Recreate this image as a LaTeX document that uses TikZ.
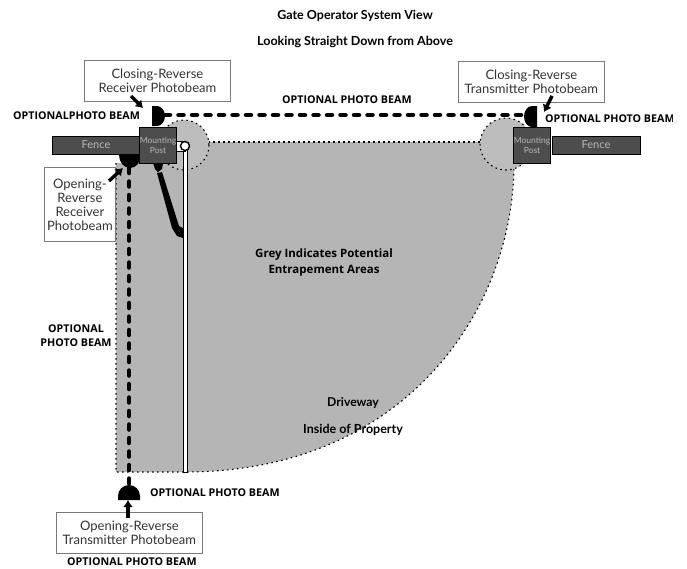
\documentclass[tikz,border=0pt]{standalone}
\usepackage{fontspec}
\setmainfont{Lato}
\newfontfamily\labelfont{Open Sans}
\usetikzlibrary{arrows.meta}
\definecolor{areagrey}{HTML}{B5B5B5}
\definecolor{circgrey}{HTML}{BDBDBD}
\definecolor{postgrey}{HTML}{4D4D4D}
\definecolor{posttext}{HTML}{B8B8B8}
\definecolor{boxline}{HTML}{7A7A7A}
\definecolor{boxtext}{HTML}{333333}
\tikzset{
    >={Latex[length=7pt, width=10pt]},
    infobox/.style={draw=boxline, line width=0.8pt, fill=white, text=boxtext, align=center, font=\fontsize{13}{14}\selectfont, inner sep=0pt, anchor=north west},
    beamtag/.style={font=\labelfont\bfseries\fontsize{10.7}{14}\selectfont, inner sep=0pt},
    headtag/.style={font=\bfseries\fontsize{12.5}{13}\selectfont, inner sep=0pt},
    postbox/.style={draw=black, line width=1pt, fill=postgrey, text=posttext, align=center, font=\fontsize{8.5}{10}\selectfont, inner sep=0pt, minimum width=36pt, minimum height=36pt},
    fencebox/.style={draw=black, line width=1pt, fill=postgrey, text=posttext, font=\fontsize{11}{12}\selectfont, inner sep=0pt, minimum width=88pt, minimum height=18pt},
    beamline/.style={line width=4.5pt, line cap=round, dash pattern=on 5pt off 8.5pt},
    pointer/.style={line width=3.4pt, ->},
    edgeline/.style={line width=1.1pt, dash pattern=on 1.6pt off 3.4pt},
}
\begin{document}
\begin{tikzpicture}[x=1pt, y=-1pt]
    \useasboundingbox(0, 0)rectangle(687, 568);
    % entrapment area
    \fill[areagrey](116, 163)--(116, 472)--(185, 472).. controls (405, 472) and (514, 310) .. (514, 163)--(514, 142)--(176, 142)--(176, 163)--cycle;
    \draw[edgeline](480, 142)--(209, 142);
    \draw[edgeline](116, 163)--(116, 472)--(185, 472).. controls (405, 472) and (514, 310) .. (514, 163);
    \filldraw[edgeline, fill=circgrey](184, 145)circle[radius=25];
    \filldraw[edgeline, fill=circgrey](506, 144)circle[radius=26];
    % beams
    \coordinate(recvtop)at(165, 115);
    \coordinate(sendtop)at(524, 115);
    \coordinate(recvleft)at(129, 168);
    \coordinate(sendleft)at(129, 485);
    \draw[beamline](recvtop)--(sendtop);
    \draw[beamline](recvleft)--(sendleft);
    \fill(152, 106)--(157, 106)arc[start angle=-90, end angle=90, x radius=8, y radius=10]--(152, 126)--cycle;
    \fill(537, 106)--(532, 106)arc[start angle=-90, end angle=-270, x radius=8, y radius=10.5]--(537, 127)--cycle;
    \fill(119, 155)arc[start angle=180, end angle=0, x radius=11, y radius=13]--cycle;
    \fill(118, 500)--(118, 496)arc[start angle=180, end angle=360, x radius=11, y radius=11]--(140, 500)--cycle;
    % posts and fence
    \node[fencebox](fenceleft)at(96, 145){Fence};
    \node[fencebox](fenceright)at(596, 145){Fence};
    \node[postbox](postleft)at(158, 145){Mounting\\Post};
    \node[postbox](postright)at(532, 145){Mounting\\Post};
    % gate and operator
    \filldraw[fill=white, line width=1pt](183.5, 146)rectangle(187.5, 472);
    \filldraw[fill=white, line width=1pt](176, 141)rectangle(185, 151);
    \filldraw[fill=white, line width=1.4pt](185, 146)circle[radius=4.5];
    \fill(153, 163)--(163, 163)--(162, 169)--(158, 172)--(155, 169)--cycle;
    \fill(157, 173)--(162, 172)--(179, 226)--(183, 228)--(183, 238)--(177, 236)--(172, 228)--cycle;
    % boxes
    \node[infobox, minimum width=146pt, minimum height=41pt](boxrecvtop)at(84, 60){Closing-Reverse\\Receiver Photobeam};
    \node[infobox, minimum width=146pt, minimum height=41pt](boxsendtop)at(458, 61){Closing-Reverse\\Transmitter Photobeam};
    \node[infobox, minimum width=71pt, minimum height=74pt](boxrecvleft)at(44, 167){Opening-\\Reverse\\Receiver\\Photobeam};
    \node[infobox, minimum width=146pt, minimum height=41pt](boxsendleft)at(56, 512){Opening-Reverse\\Transmitter Photobeam};
    % pointers
    \coordinate(tiprecvtop)at(143, 108);
    \coordinate(tipsendtop)at(544, 112);
    \coordinate(tiprecvleft)at(123, 168);
    \coordinate(tipsendleft)at(128, 500);
    \coordinate(tailsendleft)at(128, 518);
    \draw[pointer](131, 96)--(tiprecvtop);
    \draw[pointer](552, 96)--(tipsendtop);
    \draw[pointer](109, 181)--(tiprecvleft);
    \draw[pointer](tailsendleft)--(tipsendleft);
    % labels
    \node[headtag](titletop)at(355, 16){Gate Operator System View};
    \node[headtag](titlesub)at(355, 42){Looking Straight Down from Above};
    \node[beamtag, anchor=west](tagtop)at(282, 100){OPTIONAL PHOTO BEAM};
    \node[beamtag, anchor=west](tagleft)at(13, 116){OPTIONALPHOTO BEAM};
    \begin{scope}
        \clip(0, 0)rectangle(672, 568);
        \node[beamtag, anchor=west](tagright)at(545, 119){OPTIONAL PHOTO BEAM};
    \end{scope}
    \node[beamtag, align=center](tagside)at(76, 336){OPTIONAL\\PHOTO BEAM};
    \node[beamtag, anchor=west](tagbottom)at(150, 493){OPTIONAL PHOTO BEAM};
    \node[beamtag, anchor=west](tagfoot)at(67, 562){OPTIONAL PHOTO BEAM};
    \node[beamtag, align=center, font=\labelfont\bfseries\fontsize{11.5}{16}\selectfont](tagarea)at(324, 263){Grey Indicates Potential\\Entrapement Areas};
    \node[headtag, font=\bfseries\fontsize{12.2}{13}\selectfont](tagdrive)at(353, 403){Driveway};
    \node[headtag](taginside)at(353, 430){Inside of Property};
\end{tikzpicture}
\end{document}
